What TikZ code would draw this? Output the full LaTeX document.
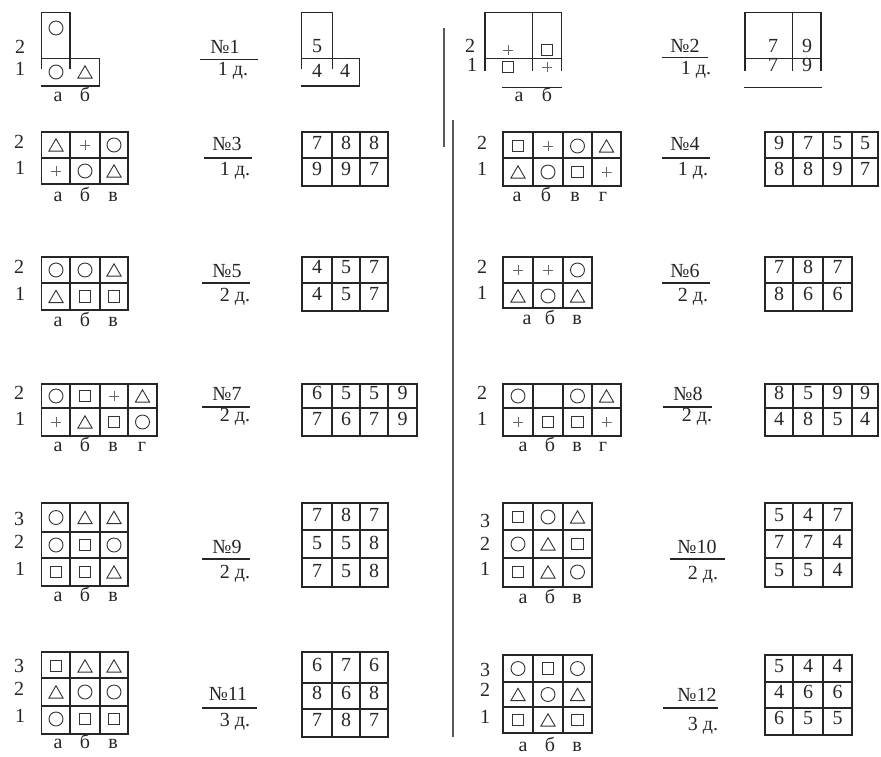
\documentclass[tikz,border=0pt]{standalone}
\usepackage{fontspec}
\setmainfont{Liberation Serif}
\usetikzlibrary{shapes.geometric}
\newcommand\fs{\fontsize{20}{22}\selectfont}
\newcommand\mygrid[6]{%
  \foreach \gx in {#1} {\draw[gl] (\gx,#5) -- (\gx,#6);}%
  \foreach \gy in {#2} {\draw[gl] (#3,\gy) -- (#4,\gy);}%
}
\newcommand\trow[3]{\foreach \x/\v [count=\i] in {#3} {\node[lab] (#1\i) at (\x,#2) {\v};}}
\newcommand\srow[3]{\foreach \x/\s [count=\i] in {#3} {\node[\s] (#1\i) at (\x,#2) {};}}
\tikzset{
 gl/.style={draw=black!85, line width=1.3pt, line cap=rect},
 lab/.style={font=\fs, inner sep=0pt, text height=0.66em, text depth=0pt, text=black!85},
 symb/.style={draw=black!80, line width=0.9pt, inner sep=0pt},
 circ/.style={symb, circle, minimum size=14pt},
 sq/.style={symb, rectangle, minimum size=11.5pt},
 tri/.style={symb, regular polygon, regular polygon sides=3, minimum size=16.5pt, yshift=-2pt},
 pl/.style={inner sep=0pt, minimum size=10pt, path picture={\draw[black!60, line width=0.9pt] (path picture bounding box.north) -- (path picture bounding box.south) (path picture bounding box.west) -- (path picture bounding box.east);}},
 fl/.style={draw=black!85, line width=1.1pt},
 divl/.style={draw=black!65, line width=1.6pt},
}
\begin{document}
\begin{tikzpicture}[x=1pt,y=-1pt]
\useasboundingbox (0,0) rectangle (881,756);
% dividers
\draw[divl] (444,28) -- (444,147);
\draw[divl] (453,120) -- (453,737);

% ---------- No 1
\draw[gl] (41.7,68) -- (41.7,12.3) -- (70,12.3) -- (70,68);
\draw[gl] (41.7,58.3) -- (99.3,58.3) -- (99.3,86) -- (41.7,86);
\node[circ] (s1a) at (56,28) {};
\node[circ] (s1b) at (56,72) {};
\node[tri] (s1c) at (85,72) {};
\node[lab] (r1b) at (20,50) {2};
\node[lab] (r1a) at (20,72) {1};
\trow{c1}{98}{58/а,85/б}
\node[lab] (n1) at (225,50) {№1};
\draw[fl] (200,59.3) -- (258,59.3);
\node[lab] (d1) at (233,72) {1 д.};
\draw[gl] (301.7,68) -- (301.7,12.3) -- (332.7,12.3) -- (332.7,68);
\draw[gl] (301.7,58.3) -- (359.3,58.3) -- (359.3,86) -- (301.7,86);
\node[lab] (v1a) at (317,49) {5};
\trow{v1b}{74}{317/4,345/4}

% ---------- No 2
\draw[gl] (485,70) -- (485,12.3) -- (561.7,12.3) -- (561.7,70);
\draw[gl] (532.7,12.3) -- (532.7,70);
\draw[gl] (485,58.3) -- (561.7,58.3);
\draw[gl] (503,87.3) -- (561.7,87.3);
\srow{s2b}{50}{508/pl,547/sq}
\srow{s2a}{67}{508/sq,547/pl}
\node[lab] (r2b) at (470,49) {2};
\node[lab] (r2a) at (472,68) {1};
\trow{c2}{98}{519/а,547/б}
\node[lab] (n2) at (685,49) {№2};
\draw[fl] (662,57.3) -- (708,57.3);
\node[lab] (d2) at (696,71) {1 д.};
\draw[gl] (745,70) -- (745,12.3) -- (821,12.3) -- (821,70);
\draw[gl] (792.7,12.3) -- (792.7,70);
\draw[gl] (745,58.3) -- (821,58.3);
\draw[gl] (745,87.3) -- (821,87.3);
\trow{v2b}{49}{773/7,807/9}
\trow{v2a}{68}{773/7,807/9}

% ---------- No 3
\mygrid{41.7,70,100,128}{132,158,184}{41.7}{128}{132}{184}
\srow{s3b}{145}{56/tri,85/pl,114/circ}
\srow{s3a}{171}{56/pl,85/circ,114/tri}
\node[lab] (r3b) at (19,145) {2};
\node[lab] (r3a) at (20,171) {1};
\trow{c3}{198}{58/а,85/б,113/в}
\node[lab] (n3) at (227,147) {№3};
\draw[fl] (204,158) -- (252,158);
\node[lab] (d3) at (235,172) {1 д.};
\mygrid{302,332,360,388}{132,158,186}{302}{388}{132}{186}
\trow{v3b}{146}{317/7,346/8,374/8}
\trow{v3a}{172}{317/9,346/9,374/7}

% ---------- No 4
\mygrid{503,533,563,592,621}{132,158,186}{503}{621}{132}{186}
\srow{s4b}{146}{518/sq,548/pl,577.5/circ,606.5/tri}
\srow{s4a}{172}{518/tri,548/circ,577.5/sq,606.5/pl}
\node[lab] (r4b) at (482,146) {2};
\node[lab] (r4a) at (482,172) {1};
\trow{c4}{198}{517/а,546/б,575/в,603/г}
\node[lab] (n4) at (685,147) {№4};
\draw[fl] (662,158) -- (710,158);
\node[lab] (d4) at (693,172) {1 д.};
\mygrid{765,793,823,852,878}{132,158,186}{765}{878}{132}{186}
\trow{v4b}{146}{779/9,808/7,837.5/5,865/5}
\trow{v4a}{172}{779/8,808/8,837.5/9,865/7}

% ---------- No 5
\mygrid{41.7,70,100,128}{257,283,310}{41.7}{128}{257}{310}
\srow{s5b}{270}{56/circ,85/circ,114/tri}
\srow{s5a}{296.5}{56/tri,85/sq,114/sq}
\node[lab] (r5b) at (19,270) {2};
\node[lab] (r5a) at (20,297) {1};
\trow{c5}{323}{58/а,85/б,113/в}
\node[lab] (n5) at (227,274) {№5};
\draw[fl] (202,283) -- (250,283);
\node[lab] (d5) at (235,298) {2 д.};
\mygrid{302,332,360,388}{257,283,311}{302}{388}{257}{311}
\trow{v5b}{270}{317/4,346/5,374/7}
\trow{v5a}{297}{317/4,346/5,374/7}

% ---------- No 6
\mygrid{503,533,563,592}{257,283,308}{503}{592}{257}{308}
\srow{s6b}{270}{518/pl,548/pl,577.5/circ}
\srow{s6a}{296}{518/tri,548/circ,577.5/tri}
\node[lab] (r6b) at (482,270) {2};
\node[lab] (r6a) at (482,296) {1};
\trow{c6}{321}{527/а,550/б,577/в}
\node[lab] (n6) at (685,274) {№6};
\draw[fl] (662,283) -- (710,283);
\node[lab] (d6) at (693,298) {2 д.};
\mygrid{765,793,823,852}{257,283,311}{765}{852}{257}{311}
\trow{v6b}{270}{779/7,808/8,837.5/7}
\trow{v6a}{297}{779/8,808/6,837.5/6}

% ---------- No 7
\mygrid{41.7,70,100,128,157}{384,408,436}{41.7}{157}{384}{436}
\srow{s7b}{396}{56/circ,85/sq,114/pl,142.5/tri}
\srow{s7a}{422}{56/pl,85/tri,114/sq,142.5/circ}
\node[lab] (r7b) at (19,396) {2};
\node[lab] (r7a) at (20,422) {1};
\trow{c7}{448}{58/а,85/б,113/в,142/г}
\node[lab] (n7) at (227,397) {№7};
\draw[fl] (202,407) -- (250,407);
\node[lab] (d7) at (235,418) {2 д.};
\mygrid{302,332,360,388,417}{384,408,436}{302}{417}{384}{436}
\trow{v7b}{396}{317/6,346/5,374/5,402.5/9}
\trow{v7a}{422}{317/7,346/6,374/7,402.5/9}

% ---------- No 8
\mygrid{503,533,563,592,621}{384,408,436}{503}{621}{384}{436}
\srow{s8b}{396}{518/circ,577.5/circ,606.5/tri}
\srow{s8a}{422}{518/pl,548/sq,577.5/sq,606.5/pl}
\node[lab] (r8b) at (482,396) {2};
\node[lab] (r8a) at (482,422) {1};
\trow{c8}{448}{523/а,550/б,577/в,603/г}
\node[lab] (n8) at (688,397) {№8};
\draw[fl] (663,407) -- (712,407);
\node[lab] (d8) at (697,418) {2 д.};
\mygrid{765,793,823,852,878}{384,408,436}{765}{878}{384}{436}
\trow{v8b}{396}{779/8,808/5,837.5/9,865/9}
\trow{v8a}{422}{779/4,808/8,837.5/5,865/4}

% ---------- No 9
\mygrid{41.7,70,100,128}{503,532,558,586}{41.7}{128}{503}{586}
\srow{s9c}{517.5}{56/circ,85/tri,114/tri}
\srow{s9b}{545}{56/circ,85/sq,114/circ}
\srow{s9a}{572}{56/sq,85/sq,114/tri}
\node[lab] (r9c) at (19,522) {3};
\node[lab] (r9b) at (19,545) {2};
\node[lab] (r9a) at (20,572) {1};
\trow{c9}{598}{58/а,85/б,113/в}
\node[lab] (n9) at (227,550) {№9};
\draw[fl] (202,559) -- (250,559);
\node[lab] (d9) at (235,575) {2 д.};
\mygrid{302,332,360,388}{503,530,558,587}{302}{388}{503}{587}
\trow{v9c}{518}{317/7,346/8,374/7}
\trow{v9b}{546}{317/5,346/5,374/8}
\trow{v9a}{574}{317/7,346/5,374/8}

% ---------- No 10
\mygrid{503,533,563,592}{503,530,558,587}{503}{592}{503}{587}
\srow{s10c}{517}{518/sq,548/circ,577.5/tri}
\srow{s10b}{544}{518/circ,548/tri,577.5/sq}
\srow{s10a}{572}{518/sq,548/tri,577.5/circ}
\node[lab] (r10c) at (485,524) {3};
\node[lab] (r10b) at (485,547) {2};
\node[lab] (r10a) at (485,572) {1};
\trow{c10}{600}{523/а,550/б,577/в}
\node[lab] (n10) at (697,550) {№10};
\draw[fl] (670,559) -- (725,559);
\node[lab] (d10) at (703,576) {2 д.};
\mygrid{765,793,823,852}{503,530,558,587}{765}{852}{503}{587}
\trow{v10c}{518}{779/5,808/4,837.5/7}
\trow{v10b}{545}{779/7,808/7,837.5/4}
\trow{v10a}{573}{779/5,808/5,837.5/4}

% ---------- No 11
\mygrid{41.7,70,100,128}{652,678,706,734}{41.7}{128}{652}{734}
\srow{s11c}{666}{56/sq,85/tri,114/tri}
\srow{s11b}{692}{56/tri,85/circ,114/circ}
\srow{s11a}{719}{56/circ,85/sq,114/sq}
\node[lab] (r11c) at (19,669) {3};
\node[lab] (r11b) at (19,692) {2};
\node[lab] (r11a) at (20,719) {1};
\trow{c11}{745}{58/а,85/б,113/в}
\node[lab] (n11) at (228,697) {№11};
\draw[fl] (202,708) -- (257,708);
\node[lab] (d11) at (235,723) {3 д.};
\mygrid{302,332,360,388}{652,683,709,737}{302}{388}{652}{737}
\trow{v11c}{668}{317/6,346/7,374/6}
\trow{v11b}{696}{317/8,346/6,374/8}
\trow{v11a}{723}{317/7,346/8,374/7}

% ---------- No 12
\mygrid{503,533,563,592}{655,682,707,733}{503}{592}{655}{733}
\srow{s12c}{668.5}{518/circ,548/sq,577.5/circ}
\srow{s12b}{694.5}{518/tri,548/circ,577.5/tri}
\srow{s12a}{720}{518/sq,548/tri,577.5/sq}
\node[lab] (r12c) at (485,673) {3};
\node[lab] (r12b) at (485,693) {2};
\node[lab] (r12a) at (485,720) {1};
\trow{c12}{748}{523/а,550/б,577/в}
\node[lab] (n12) at (697,698) {№12};
\draw[fl] (663,708) -- (718,708);
\node[lab] (d12) at (703,727) {3 д.};
\mygrid{765,793,823,852}{655,682,708,735}{765}{852}{655}{735}
\trow{v12c}{669}{779/5,808/4,837.5/4}
\trow{v12b}{695}{779/4,808/6,837.5/6}
\trow{v12a}{721}{779/6,808/5,837.5/5}
\end{tikzpicture}
\end{document}
